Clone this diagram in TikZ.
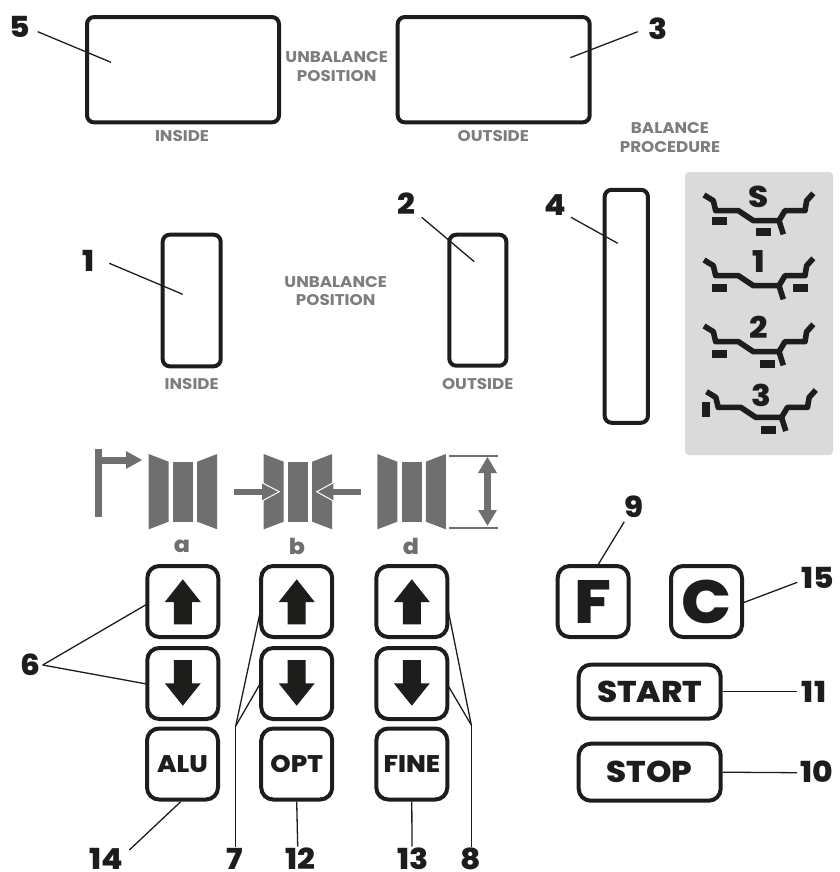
\documentclass[tikz,border=0pt]{standalone}
\usepackage{fontspec}
\setmainfont{Poppins}[UprightFont=* Bold,BoldFont=* ExtraBold,FakeStretch=1.08]
\definecolor{ink}{HTML}{1D1D1B}
\definecolor{gr}{HTML}{6F6F6F}
\definecolor{lab}{HTML}{7D7D7D}
\definecolor{panel}{HTML}{DADADA}
\newcommand{\fsz}[1]{\fontsize{#1}{#1}\selectfont}
\newcommand{\rimicon}[5]{%
 \begin{scope}[shift={(680+#2,170+#1)},x=0.3333pt,y=-0.3333pt]
  \draw[rimline] (72,75)--(100,92)--(107,122)--(175,122)--(220,152)--(297,152)--(315,122)--(375,122)--(380,92)--(400,70);
  \draw[rimline] (297,152)--(310,193);
  \node[rimlabel] (#5) at (236,#3) {#4};
 \end{scope}}
\tikzset{
 box/.style={draw=ink,line width=4pt,rounded corners=7pt,fill=white,inner sep=0pt},
 btn/.style={box,minimum width=71pt,minimum height=71pt,rounded corners=12pt,text=ink},
 num/.style={text=ink,font=\bfseries\fsz{29},inner sep=0pt},
 lead/.style={draw=ink,line width=1.3pt},
 capt/.style={text=lab,font=\fontsize{15.5}{18.4}\selectfont,align=center,inner sep=0pt},
 letter/.style={text=gr,font=\bfseries\fsz{22},inner sep=0pt},
 rimline/.style={draw=ink,line width=5.6pt,line join=round},
 rimlabel/.style={text=ink,font=\bfseries\fsz{30},inner sep=0pt},
 wgt/.style={fill=ink},
 pict/.style={fill=gr},
 btntext/.style={font=\bfseries\fsz{24},text=ink,inner sep=0pt}
}
\newcommand{\tirepict}[1]{%
 \begin{scope}[xshift=#1pt]
  \fill[pict] (0,454)--(20,461.7)--(20,521.7)--(0,529.3)--cycle;
  \fill[pict] (24.3,462) rectangle (44.3,522);
  \fill[pict] (68.5,454)--(48.5,461.7)--(48.5,521.7)--(68.5,529.3)--cycle;
 \end{scope}}
\begin{document}
\begin{tikzpicture}[x=1pt,y=-1pt]
\useasboundingbox (0,0) rectangle (839,872);
% display boxes
\node[box,minimum width=192pt,minimum height=105.3pt] (d5) at (183,69.7) {};
\node[box,minimum width=192pt,minimum height=105.3pt] (d3) at (493.7,69.7) {};
\node[box,minimum width=58pt,minimum height=131.6pt] (d1) at (191.7,300.5) {};
\node[box,minimum width=57pt,minimum height=131pt] (d2) at (477.8,300.2) {};
\node[box,minimum width=43.3pt,minimum height=233pt] (d4) at (626.3,306.3) {};
% captions
\node[capt] (c1) at (336.7,66.5) {UNBALANCE\\POSITION};
\node[capt] (c2) at (182,136) {INSIDE};
\node[capt] (c3) at (493.3,136) {OUTSIDE};
\node[capt] (c4) at (670,137.5) {BALANCE\\PROCEDURE};
\node[capt] (c5) at (335.7,291) {UNBALANCE\\POSITION};
\node[capt] (c6) at (191.7,384) {INSIDE};
\node[capt] (c7) at (477.7,384) {OUTSIDE};
% panel
\fill[panel,rounded corners=4pt] (685,172) rectangle (833,455);
\rimicon{0}{0}{82}{S}{rS}
\rimicon{65}{0}{80}{1}{r1}
\rimicon{131}{0}{80}{2}{r2}
\rimicon{196.7}{2.5}{87}{3}{r3}
\begin{scope}[shift={(680,170)},x=0.3333pt,y=-0.3333pt]
 \fill[wgt] (96,140) rectangle (141,165);
 \fill[wgt] (228,173) rectangle (273,198);
 \fill[wgt] (96,342) rectangle (141,366);
 \fill[wgt] (339,342) rectangle (384,366);
 \fill[wgt] (96,540) rectangle (141,564);
 \fill[wgt] (240,570) rectangle (285,594);
 \fill[wgt] (66,695) rectangle (90,740);
 \fill[wgt] (243,768) rectangle (288,792);
\end{scope}
% pictograms
\tirepict{148.7}
\tirepict{263.7}
\tirepict{377.3}
\fill[pict] (95.3,449) rectangle (102,517);
\fill[pict] (102,457) rectangle (127,464);
\fill[pict] (126,451)--(142,460)--(126,469)--cycle;
\fill[pict] (234,489) rectangle (263,495);
\draw[white,fill=gr,line width=1pt] (262,482.7)--(279.3,491.7)--(262,501);
\fill[pict] (332.5,489) rectangle (361,495);
\draw[white,fill=gr,line width=1pt] (333.3,482.7)--(316.7,491.7)--(333.3,501);
\draw[gr,line width=2.2pt] (449,455.7)--(498,455.7);
\draw[gr,line width=2.2pt] (449,527.7)--(498,527.7);
\fill[pict] (484,470) rectangle (491,513);
\fill[pict] (487.5,457)--(497,473)--(478,473)--cycle;
\fill[pict] (487.5,525.7)--(497,510)--(478,510)--cycle;
\node[letter] (la) at (182,546) {a};
\node[letter] (lb) at (297,546) {b};
\node[letter] (ld) at (411,546) {d};
% buttons
\node[btn] (aup) at (182.8,601.5) {};
\node[btn] (adn) at (182.8,683.5) {};
\node[btn] (alu) at (182.5,764) {};
\node[btn] (bup) at (296.7,601.5) {};
\node[btn] (bdn) at (296.7,683.5) {};
\node[btn] (opt) at (296.7,764) {};
\node[btn] (dup) at (411.8,601.5) {};
\node[btn] (ddn) at (411.8,683.5) {};
\node[btn] (fine) at (411.8,764) {};
\node[btn,font=\bfseries\fsz{61}] (fk) at (593.2,601.5) {F};
\node[btn,font=\bfseries\fsz{61}] (ck) at (706.5,601.5) {C};
\node[box,minimum width=142pt,minimum height=54pt,rounded corners=12pt] (start) at (649.7,691.7) {};
\node[box,minimum width=142pt,minimum height=57pt,rounded corners=12pt] (stop) at (649.7,772.2) {};
\node[btntext] (talu) at (alu) {ALU};
\node[btntext] (topt) at (opt) {OPT};
\node[btntext] (tfine) at (fine) {FINE};
\node[btntext,font=\bfseries\fsz{30}] (tstart) at (start) {START};
\node[btntext,font=\bfseries\fsz{30}] (tstop) at (stop) {STOP};
% arrow glyphs
\foreach \n in {aup,bup,dup}{
 \begin{scope}[shift={(\n.center)}]
  \fill[ink] (0,-22.2)--(18,0.5)--(9,0.5)--(9,22.8)--(-9,22.8)--(-9,0.5)--(-18,0.5)--cycle;
 \end{scope}}
\foreach \n in {adn,bdn,ddn}{
 \begin{scope}[shift={(\n.center)}]
  \fill[ink] (0,22.2)--(18,-0.2)--(9,-0.2)--(9,-23.5)--(-9,-23.5)--(-9,-0.2)--(-18,-0.2)--cycle;
 \end{scope}}
% numbers
\node[num] (n5) at (19.3,27.3) {5};
\node[num] (n3) at (657.7,28.3) {3};
\node[num] (n1) at (88.3,261) {1};
\node[num] (n2) at (406.7,204) {2};
\node[num] (n4) at (555,205) {4};
\node[num] (n6) at (30,665) {6};
\node[num] (n14) at (106.7,859) {14};
\node[num] (n7) at (235,859) {7};
\node[num] (n12) at (300,859) {12};
\node[num] (n13) at (412.7,859) {13};
\node[num] (n8) at (471,859) {8};
\node[num] (n9) at (634,507) {9};
\node[num] (n15) at (817.7,578) {15};
\node[num] (n11) at (814,691.7) {11};
\node[num] (n10) at (817,772) {10};
% leaders
\coordinate (e5) at (111,62.3);
\coordinate (e3) at (570.3,57.7);
\coordinate (e1) at (182.7,294.3);
\coordinate (e2) at (474.3,261.7);
\coordinate (e4) at (617.7,243.3);
\draw[lead] (37.7,31.7)--(e5);
\draw[lead] (637.7,31.7)--(e3);
\draw[lead] (109.3,263.3)--(e1);
\draw[lead] (421.7,217.3)--(e2);
\draw[lead] (571,217.3)--(e4);
\coordinate (s6) at (42.7,665);
\draw[lead] (s6)--(146.7,604.3);
\draw[lead] (s6)--(146.7,684);
\coordinate (s7) at (235.7,726);
\draw[lead] (235.7,846.7)--(s7);
\draw[lead] (s7)--(261.7,605);
\draw[lead] (s7)--(260,684);
\coordinate (s8) at (471.3,725);
\draw[lead] (471.3,846.7)--(s8);
\draw[lead] (s8)--(447.3,606);
\draw[lead] (s8)--(447.3,684.3);
\draw[lead] (opt.south)--(297.7,846.7);
\draw[lead] (fine.south)--(412,846.7);
\draw[lead] (129.3,850)--(180.7,801.7);
\draw[lead] (624.3,521.7)--(597.3,566);
\draw[lead] (797.3,582.3)--(743.3,602.7);
\draw[lead] (start.east)--(797,691.7);
\draw[lead] (stop.east)--(797,772.7);
\end{tikzpicture}
\end{document}
